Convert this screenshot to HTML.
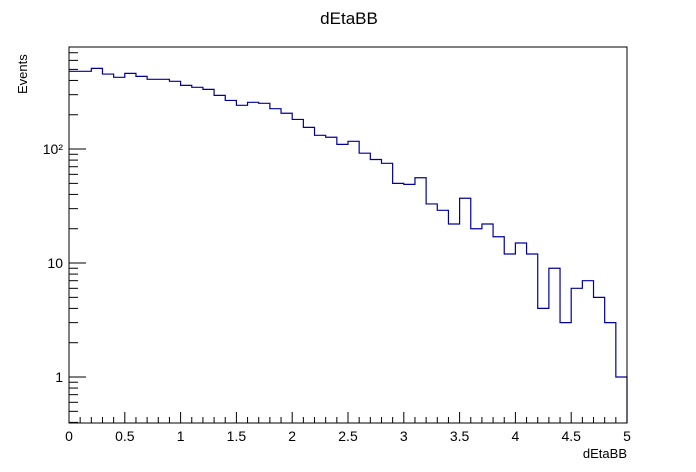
<!DOCTYPE html>
<html><head><meta charset="utf-8"><style>
html,body{margin:0;padding:0;background:#fff;}
svg{display:block;font-family:"Liberation Sans",sans-serif;}
</style></head><body>
<svg id="chart" width="696" height="472" viewBox="0 0 696 472">
<rect x="0" y="0" width="696" height="472" fill="#fff"/>
<text x="349" y="24" font-size="17" text-anchor="middle">dEtaBB</text>
<text x="627" y="458" font-size="13" text-anchor="end">dEtaBB</text>
<text transform="translate(27,94) rotate(-90)" font-size="13">Events</text>
<g id="axes"></g>
<g id="marks"></g>
<rect x="69" y="47" width="558" height="376" fill="none" stroke="#000" stroke-width="1"/>
</svg>
<script>
const binEdges0 = 0, binWidth = 0.1;
const counts = [481,481,510,455,426,461,434,409,409,393,362,348,334,296,267,242,257,252,226,206,182,155,132,127,110,117,92,81,75,50,49,56,33,29,22,37,20,22,17,12,15,12,4,9,3,6,7,5,3,1];
const xTicks = [0,0.5,1,1.5,2,2.5,3,3.5,4,4.5,5];
const xTickLabels = ["0","0.5","1","1.5","2","2.5","3","3.5","4","4.5","5"];
const yDecades = [1,10,100];
const yDecadeLabels = ["1","10","10²"];

const X0=69,X1=627,Y0=423,Y1=47, xmin=0,xmax=5, lmin=Math.log10(0.395), lmax=Math.log10(786);
const NS='http://www.w3.org/2000/svg';
function xs(v){return X0+(v-xmin)/(xmax-xmin)*(X1-X0);}
function ys(v){return Y0-(Math.log10(v)-lmin)/(lmax-lmin)*(Y0-Y1);}
function mk(tag,attrs,parent){const e=document.createElementNS(NS,tag);for(const k in attrs)e.setAttribute(k,attrs[k]);parent.appendChild(e);return e;}
const axes=document.getElementById('axes'), marks=document.getElementById('marks');
for(let i=0;i<=50;i++){
  const v=i*0.1, x=xs(v), major=(i%5===0);
  const t=mk('line',{x1:x,x2:x,y1:Y0,y2:Y0-(major?11:6),stroke:'#000','stroke-width':1},axes);
  
  
}
xTicks.forEach((v,i)=>{
  const t=mk('text',{x:xs(v),y:441,'font-size':14,'text-anchor':'middle'},axes);
  t.textContent=xTickLabels[i];
  
  
});
for(let d=0.1; d<=1000; d*=10){
  for(let m=1;m<=9;m++){
    const v=d*m; if(v<0.395||v>786) continue;
    const y=ys(v), major=(m===1);
    const t=mk('line',{x1:X0,x2:X0+(major?17:9),y1:y,y2:y,stroke:'#000','stroke-width':1},axes);
    
    
  }
}
yDecades.forEach((v,i)=>{
  const t=mk('text',{x:63,y:ys(v)+5,'font-size':14,'text-anchor':'end'},axes);
  t.textContent=yDecadeLabels[i];
  
  
});
let d='';
counts.forEach((c,i)=>{
  const xa=xs(binEdges0+i*binWidth), xb=xs(binEdges0+(i+1)*binWidth), y=ys(Math.max(c,0.4));
  d += (i===0?'M'+xa+','+y:'L'+xa+','+y)+' L'+xb+','+y+' ';
});
d += 'L'+xs(5)+','+Y0;
const p=mk('path',{d:d,fill:'none',stroke:'#00009c','stroke-width':1.2},marks);


</script>
</body></html>
